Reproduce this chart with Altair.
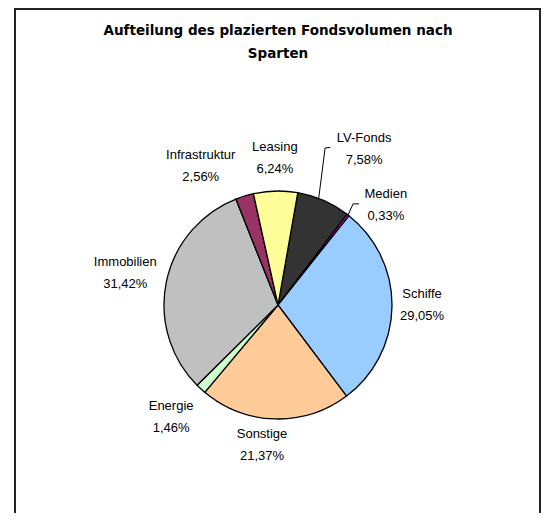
import math
import altair as alt
import pandas as pd

# ---- data (clockwise from the top) ----
categories = ["LV-Fonds", "Medien", "Schiffe", "Sonstige", "Energie",
              "Immobilien", "Infrastruktur", "Leasing"]
shares = [7.58, 0.33, 29.05, 21.37, 1.46, 31.42, 2.56, 6.24]
colors = ["#333333", "#FF00FF", "#99CCFF", "#FFCC99", "#CCFFCC",
          "#C0C0C0", "#993366", "#FFFF99"]
title_lines = ["Aufteilung des plazierten Fondsvolumen nach", "Sparten"]

# ---- label layout (angle shift from slice middle in degrees, distance in px) ----
label_shift = [5.3, 9.3, -0.8, 5.0, 1.0, 0.0, -12.0, 0.0]
label_radius = [178, 147, 144, 141, 155, 156, 159, 147]

W, H = 533, 505
CX, CY = 270, 297
R = 114
START = math.radians(10)
TOTAL = sum(shares)
LH = 22

def pct(v):
    return f"{v:.2f}".replace(".", ",") + "%"

df = pd.DataFrame({
    "cat": categories,
    "value": shares,
    "idx": list(range(len(categories))),
    "label": [f"{c}\n{pct(v)}" for c, v in zip(categories, shares)],
    "shift": label_shift,
    "lr": label_radius,
})

color_scale = alt.Scale(domain=categories, range=colors)

arcs = alt.Chart(df).mark_arc(stroke="black", strokeWidth=1.3, radius=R).encode(
    theta=alt.Theta("value:Q", stack=True,
                    scale=alt.Scale(range=[START, START + 2 * math.pi])),
    order=alt.Order("idx:Q"),
    color=alt.Color("cat:N", scale=color_scale, legend=None),
    x=alt.value(CX), y=alt.value(CY),
)

labels = alt.Chart(df).transform_window(
    cum="sum(value)", sort=[alt.SortField("idx")], frame=[None, 0]
).transform_calculate(
    ang=f"{START} + (datum.cum - datum.value/2)/{TOTAL}*2*PI + datum.shift*PI/180"
).transform_calculate(
    lx=f"{CX} + datum.lr*sin(datum.ang)",
    ly=f"{CY} - datum.lr*cos(datum.ang)",
).mark_text(font="Liberation Sans", fontSize=13, lineBreak="\n", lineHeight=LH,
            align="center", baseline="middle", color="black", dy=-LH / 2).encode(
    x=alt.X("lx:Q", scale=None),
    y=alt.Y("ly:Q", scale=None),
    text="label:N",
)

# leader lines for the two small top-right slices (polar: degrees, px)
leaders = pd.DataFrame({
    "g": ["LV", "LV", "LV", "Me", "Me", "Me"],
    "k": [0, 1, 2, 0, 1, 2],
    "deg": [20.9, 16.7, 18.4, 37.9, 36.6, 38.7],
    "r": [114, 164, 166, 114, 126, 129.5],
})
lead = alt.Chart(leaders).transform_calculate(
    px=f"{CX} + datum.r*sin(datum.deg*PI/180)",
    py=f"{CY} - datum.r*cos(datum.deg*PI/180)",
).mark_line(color="black", strokeWidth=1).encode(
    x=alt.X("px:Q", scale=None), y=alt.Y("py:Q", scale=None),
    detail="g:N", order="k:Q",
)

title = alt.Chart(pd.DataFrame({"t": ["\n".join(title_lines)]})).mark_text(
    font="DejaVu Sans", fontSize=13.5, fontWeight="bold", lineBreak="\n",
    lineHeight=23, align="center", baseline="middle", color="black"
).encode(text="t:N", x=alt.value(CX), y=alt.value(22.5))

frame_l = alt.Chart(df).mark_rule(color="#222222", strokeWidth=2).encode(
    x=alt.value(7), y=alt.value(0), y2=alt.value(H))
frame_r = alt.Chart(df).mark_rule(color="#222222", strokeWidth=2).encode(
    x=alt.value(532), y=alt.value(0), y2=alt.value(H))
frame_t = alt.Chart(df).mark_rule(color="#222222", strokeWidth=1.5).encode(
    x=alt.value(6), x2=alt.value(533), y=alt.value(0.75))

chart = alt.layer(arcs, lead, labels, title, frame_l, frame_r, frame_t).properties(
    width=W, height=H, autosize=alt.AutoSizeParams(type="none"), padding=0,
    background="white",
).configure_view(stroke=None)

chart.save("out.html", embed_options={"renderer": "svg", "actions": False})
